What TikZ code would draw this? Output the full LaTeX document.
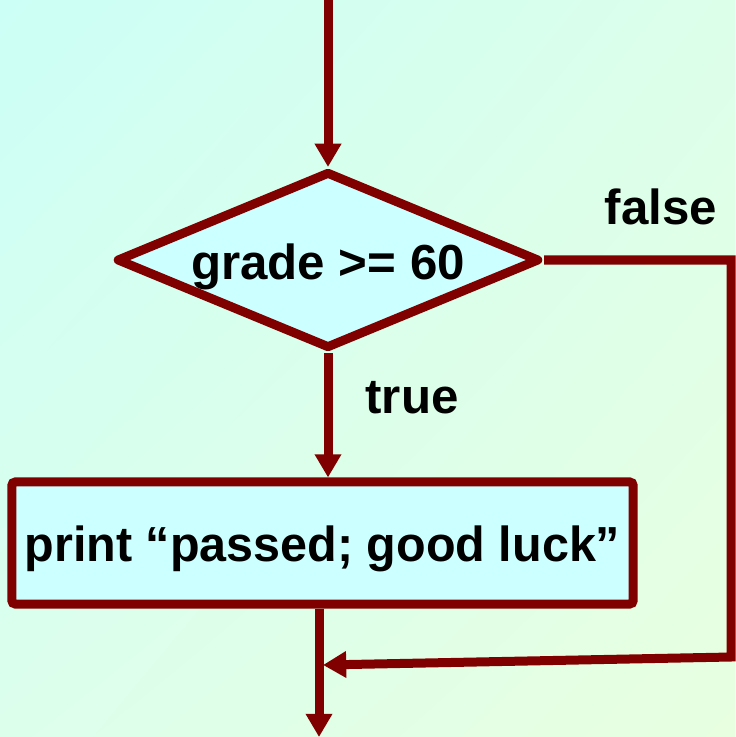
\documentclass[tikz,border=0pt]{standalone}
\usepackage{fontspec}
\setmainfont{Liberation Sans}
\usetikzlibrary{shapes.geometric,arrows.meta,shadings}
\definecolor{flowred}{HTML}{800000}
\definecolor{boxfill}{HTML}{CCFFFF}
\definecolor{bgtl}{HTML}{CCFFF6}
\definecolor{bgtr}{HTML}{DCFFEA}
\definecolor{bgbl}{HTML}{DCFFEC}
\definecolor{bgbr}{HTML}{E8FFE0}
\tikzset{
  flow/.style={draw=flowred,line width=2.56pt,-{Triangle[length=6.6pt,width=7.2pt]}},
  decision/.style={diamond,aspect=2.39,draw=flowred,fill=boxfill,line width=2.56pt,line join=round,
    minimum width=4.23cm,minimum height=1.77cm,inner sep=0pt,text height=11pt,text depth=0pt,
    font=\fontsize{14}{16}\selectfont\bfseries},
  action/.style={rectangle,draw=flowred,fill=boxfill,line width=2.56pt,rounded corners=1pt,
    minimum width=6.21cm,minimum height=1.22cm,inner sep=0pt,text height=10.5pt,text depth=0pt,
    font=\fontsize{14}{16}\selectfont\bfseries},
  label/.style={font=\fontsize{14}{16}\selectfont\bfseries}
}
\begin{document}
\begin{tikzpicture}[x=0.01cm,y=-0.01cm]
% fond degrade
\shade[upper left=bgtl,upper right=bgtr,lower left=bgbl,lower right=bgbr] (0,0) rectangle (735,737);
\useasboundingbox (0,0) rectangle (735,737);
% les deux blocs
\node[decision] (dec) at (328,260) {grade >= 60};
\node[action] (box) at (322.5,543) {\scalebox{0.985}[1]{print “passed; good luck”}};
% points libres
\coordinate (start) at (328,0);
\coordinate (fr) at (731,657);
\coordinate (merge) at (323,665);
\coordinate (end) at (319,737);
% les fleches
\draw[flow] (start) -- (dec.north);
\draw[flow] (dec.south) -- (dec.south |- box.north);
\draw[draw=flowred,line width=2.56pt] (box.south -| end) -- (end |- merge);
\draw[flow] (end |- merge) -- (end);
\draw[flow,line join=miter] (dec.east) -| (fr) -- (merge);
% etiquettes
\node[label] (ftxt) at (661,207) {false};
\node[label] (ttxt) at (412,398) {true};
\end{tikzpicture}
\end{document}
